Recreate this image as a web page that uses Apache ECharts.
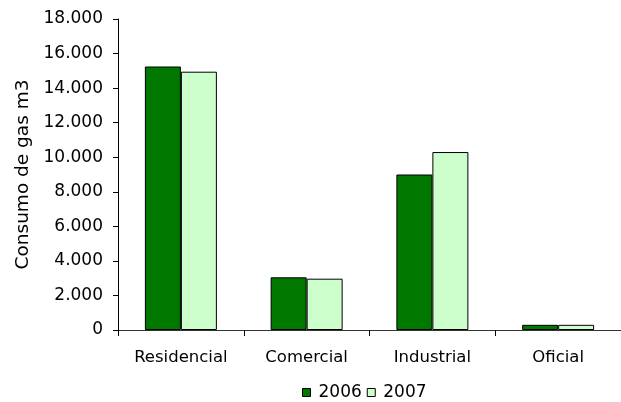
<!DOCTYPE html>
<html>
<head>
<meta charset="utf-8">
<script src="https://cdn.jsdelivr.net/npm/echarts@6/dist/echarts.min.js"></script>
<style>
html,body{margin:0;padding:0;background:#fff;}
#chart{width:621px;height:402px;}
</style>
</head>
<body>
<div id="chart"></div>
<script>
const categories = ['Residencial', 'Comercial', 'Industrial', 'Oficial'];
const series2006 = [15250, 3050, 9000, 300];
const series2007 = [14950, 2970, 10300, 300];
const yTicks = [0, 2000, 4000, 6000, 8000, 10000, 12000, 14000, 16000, 18000];

const chart = echarts.init(document.getElementById('chart'), null, {renderer: 'canvas'});
const font = 'DejaVu Sans';
function fmt(v) {
  return String(v).replace(/\B(?=(\d{3})+(?!\d))/g, '.');
}
chart.setOption({
  animation: false,
  backgroundColor: '#fff',
  textStyle: {fontFamily: font},
  grid: {left: 118, top: 19, width: 512, bottom: 72, containLabel: false},
  legend: {
    left: 297, top: 379,
    itemWidth: 8, itemHeight: 8, itemGap: 5,
    icon: 'rect',
    textStyle: {fontFamily: font, fontSize: 17, color: '#000', padding: [0, 0, 0, 3]},
    data: [
      {name: '2006', itemStyle: {borderColor: '#000', borderWidth: 1}},
      {name: '2007', itemStyle: {borderColor: '#000', borderWidth: 1}}
    ]
  },
  xAxis: {
    type: 'category',
    data: categories,
    axisLine: {lineStyle: {color: '#333', width: 1}},
    axisTick: {show: true, length: 6, lineStyle: {color: '#000'}},
    axisLabel: {fontFamily: font, fontSize: 16.5, color: '#000', margin: 19}
  },
  yAxis: {
    type: 'value',
    min: yTicks[0], max: yTicks[yTicks.length - 1], interval: 2000,
    name: 'Consumo de gas m3',
    nameLocation: 'middle',
    nameGap: 85,
    nameTextStyle: {fontFamily: font, fontSize: 18.5, color: '#000'},
    axisLine: {show: true, lineStyle: {color: '#000', width: 1}},
    axisTick: {show: true, length: 5, lineStyle: {color: '#000'}},
    splitLine: {show: false},
    axisLabel: {fontFamily: font, fontSize: 17, color: '#000', margin: 15, formatter: fmt}
  },
  series: [
    {name: '2006', type: 'bar', data: series2006, barWidth: 36, barGap: '0%',
     itemStyle: {color: '#007800', borderColor: '#000', borderWidth: 1}},
    {name: '2007', type: 'bar', data: series2007, barWidth: 36, barGap: '0%',
     itemStyle: {color: '#ccffcc', borderColor: '#000', borderWidth: 1}}
  ]
});
</script>
</body>
</html>
